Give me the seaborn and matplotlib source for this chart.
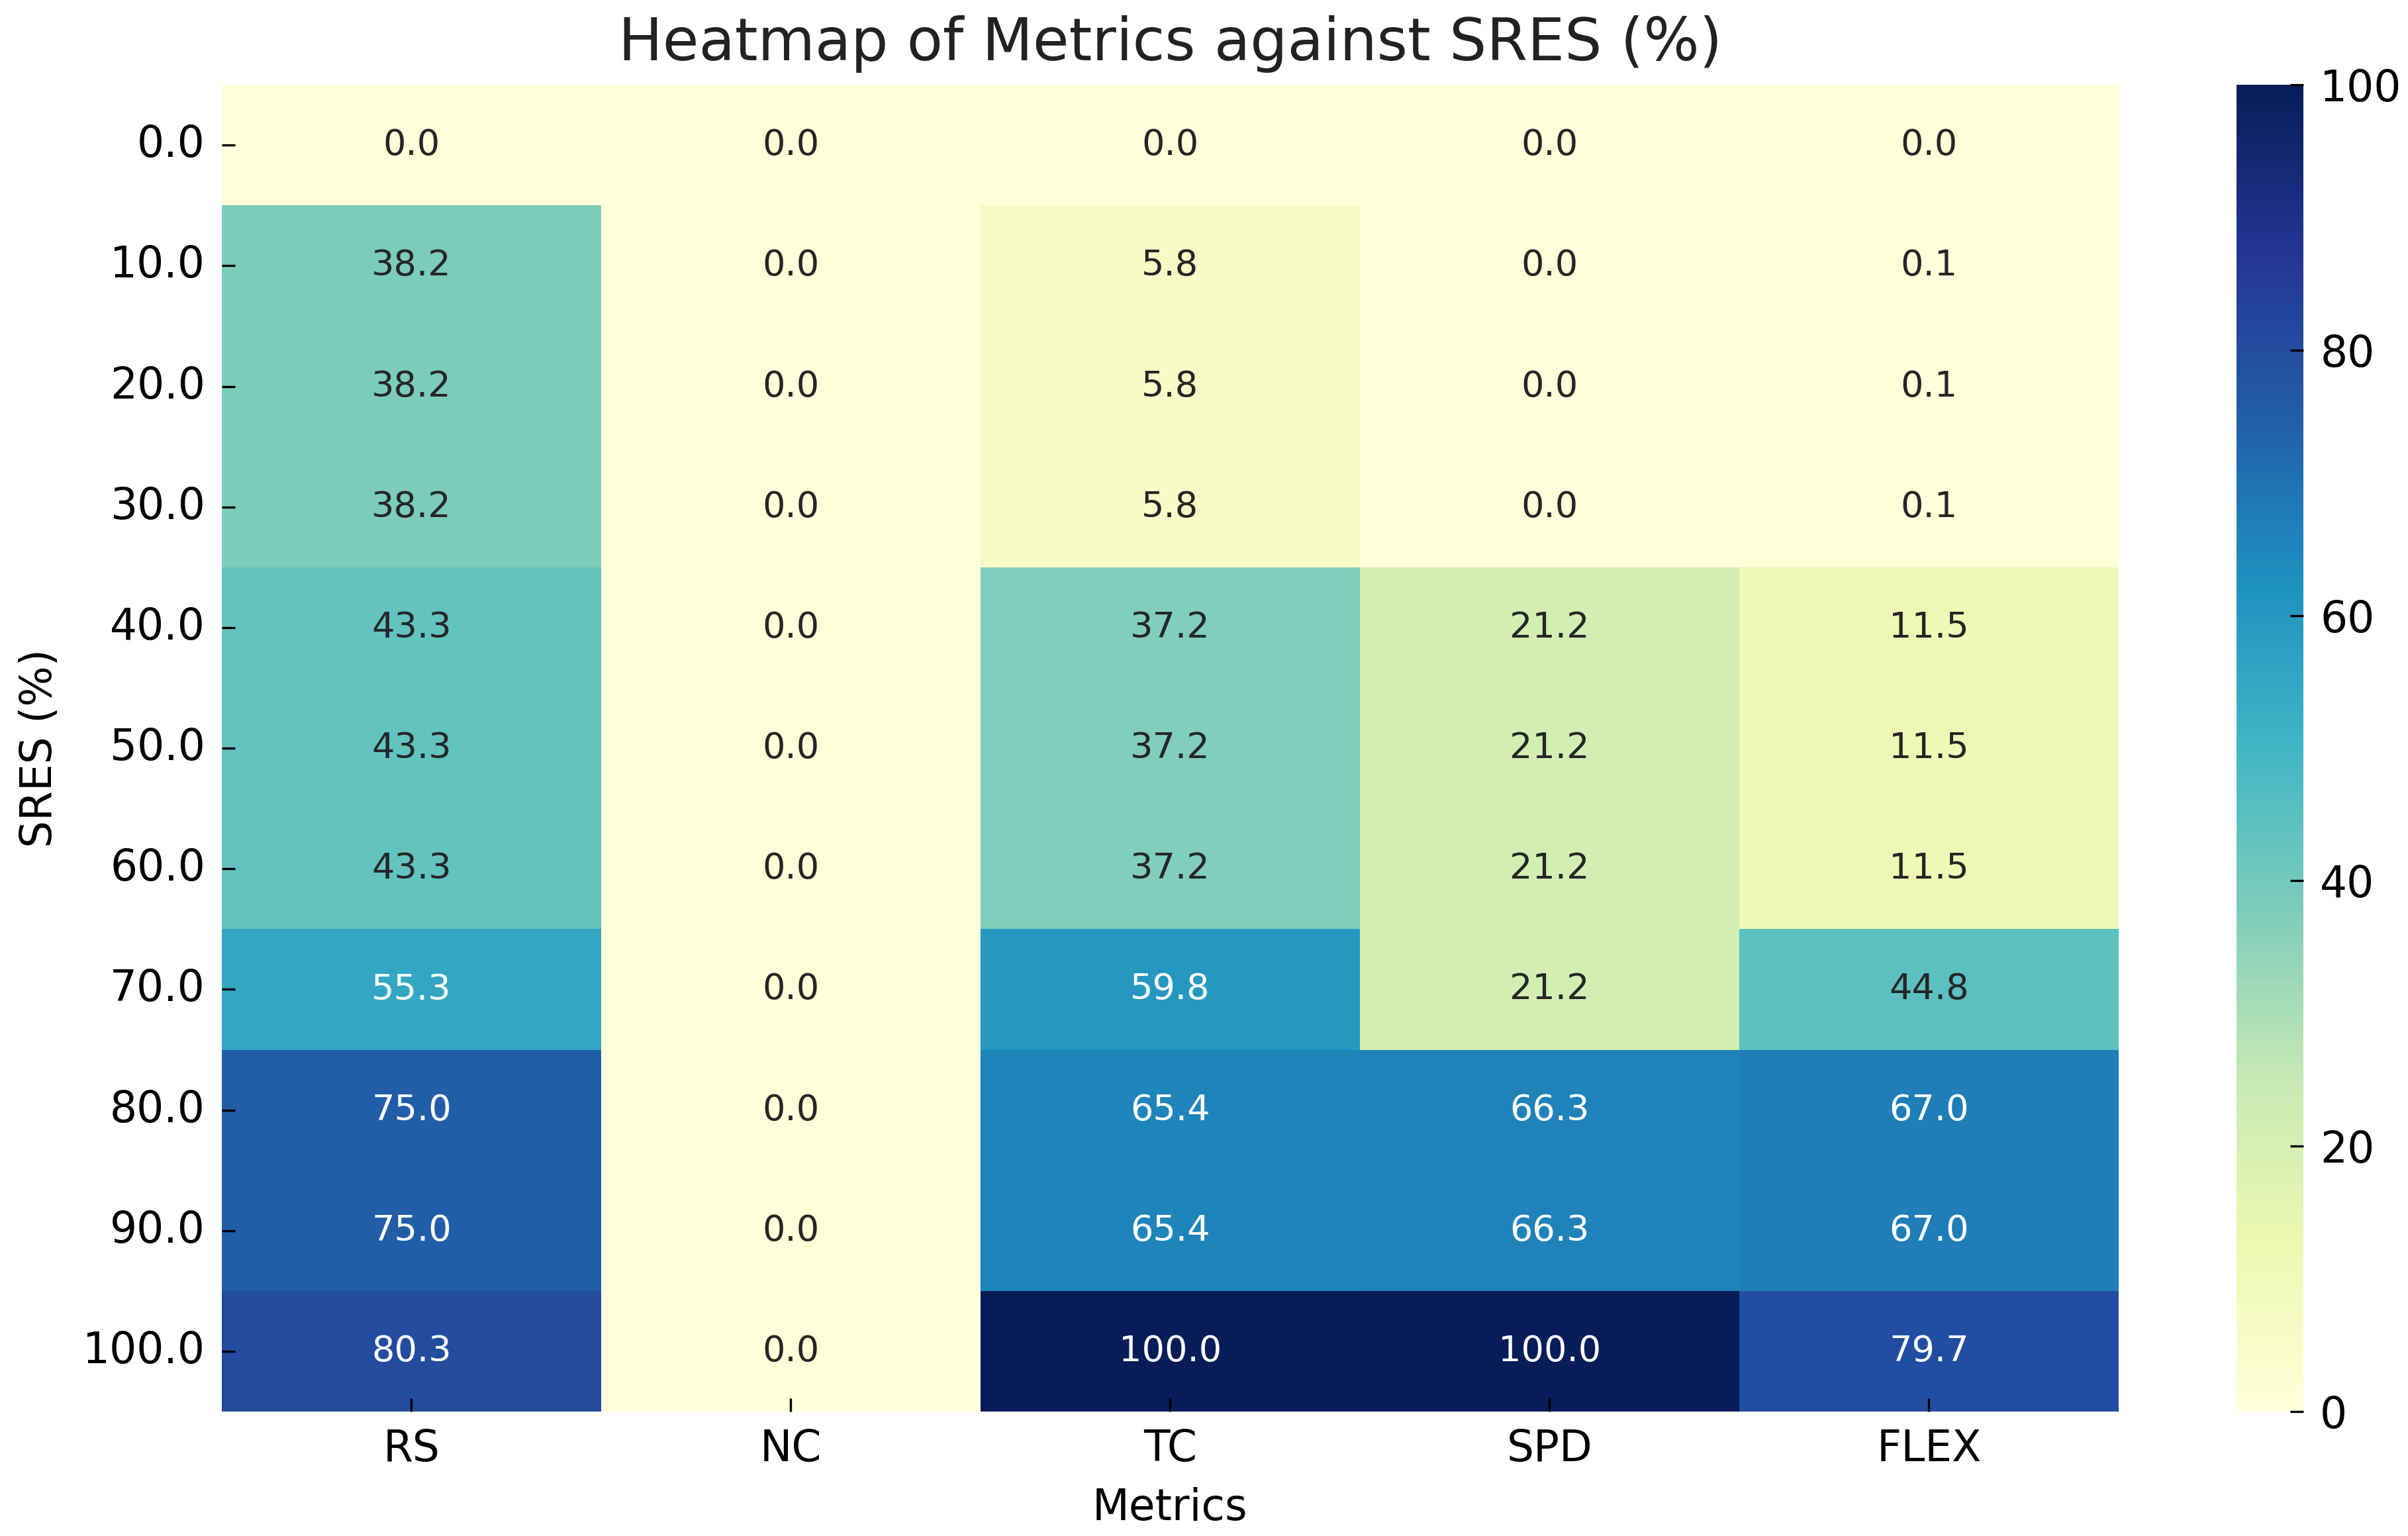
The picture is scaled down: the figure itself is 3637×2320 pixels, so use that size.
import matplotlib
matplotlib.use("Agg")
import matplotlib.pyplot as plt
import pandas as pd
import seaborn as sns

# SRES levels (rows) and metric columns
sres_levels = [0.0, 10.0, 20.0, 30.0, 40.0, 50.0, 60.0, 70.0, 80.0, 90.0, 100.0]
metrics = ['RS', 'NC', 'TC', 'SPD', 'FLEX']

rs_vals = [0.0, 38.2, 38.2, 38.2, 43.3, 43.3, 43.3, 55.3, 75.0, 75.0, 80.3]
nc_vals = [0.0, 0.0, 0.0, 0.0, 0.0, 0.0, 0.0, 0.0, 0.0, 0.0, 0.0]
tc_vals = [0.0, 5.8, 5.8, 5.8, 37.2, 37.2, 37.2, 59.8, 65.4, 65.4, 100.0]
spd_vals = [0.0, 0.0, 0.0, 0.0, 21.2, 21.2, 21.2, 21.2, 66.3, 66.3, 100.0]
flex_vals = [0.0, 0.1, 0.1, 0.1, 11.5, 11.5, 11.5, 44.8, 67.0, 67.0, 79.7]

df = pd.DataFrame({'RS': rs_vals, 'NC': nc_vals, 'TC': tc_vals,
                   'SPD': spd_vals, 'FLEX': flex_vals},
                  index=sres_levels)[metrics]
df.index.name = 'SRES (%)'

plt.rcParams['font.family'] = ['DejaVu Sans']

fig = plt.figure(figsize=(3637 / 300, 2320 / 300), dpi=300)
ax = fig.add_axes([0.0921, 0.0810, 0.7877, 0.8638])
cax = fig.add_axes([0.9288, 0.0810, 0.0278, 0.8638])

sns.heatmap(df, annot=True, fmt='.1f', cmap='YlGnBu', vmin=0, vmax=100,
            annot_kws={'size': 13}, ax=ax, cbar_ax=cax)

ax.set_title('Heatmap of Metrics against SRES (%)', fontsize=21.3, pad=9, color='#222222')
ax.set_xlabel('Metrics', fontsize=15.5, labelpad=6)
ax.set_ylabel('SRES (%)', fontsize=15.5, labelpad=8)
ax.set_yticklabels([f'{v:.1f}' for v in sres_levels], rotation=0)
ax.tick_params(axis='both', direction='in', length=4.8, width=0.8, labelsize=15.5, pad=6)

cax.tick_params(direction='in', length=4.8, width=0.8, labelsize=15.5, pad=6)
cax.set_yticks([0, 20, 40, 60, 80, 100])

fig.savefig('out.png', dpi=300)
